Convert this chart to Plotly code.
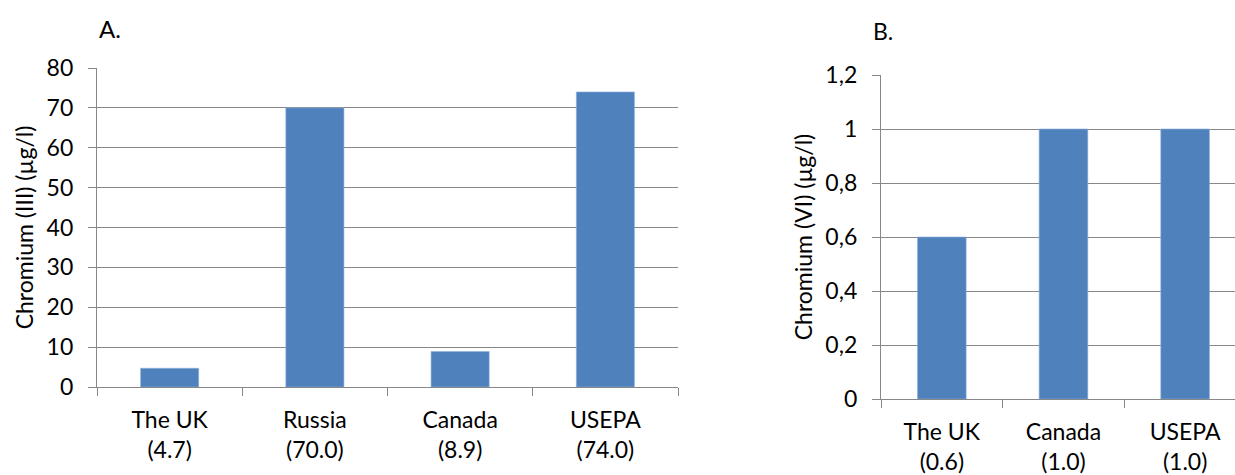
import plotly.graph_objects as go

# Panel A: Chromium (III) guideline values
cr3_names = ["The UK", "Russia", "Canada", "USEPA"]
cr3_values = [4.7, 70.0, 8.9, 74.0]

# Panel B: Chromium (VI) guideline values
cr6_names = ["The UK", "Canada", "USEPA"]
cr6_values = [0.6, 1.0, 1.0]

W, H = 1235, 475
BAR = "#4F81BD"
GRID = "#878787"
FONT = "Lato, 'Open Sans', sans-serif"


def labels(names, values):
    return [f"{n}<br>({v:.1f})" for n, v in zip(names, values)]


def px_x(a, b):
    return [a / W, b / W]


def px_y(top, bottom):
    return [1 - bottom / H, 1 - top / H]


fig = go.Figure()
fig.add_trace(go.Bar(
    x=labels(cr3_names, cr3_values), y=cr3_values,
    marker=dict(color=BAR, line=dict(color="#8EB0DA", width=0.6)),
    xaxis="x", yaxis="y", showlegend=False,
))
fig.add_trace(go.Bar(
    x=labels(cr6_names, cr6_values), y=cr6_values,
    marker=dict(color=BAR, line=dict(color="#8EB0DA", width=0.6)),
    xaxis="x2", yaxis="y2", showlegend=False,
))

axis_common = dict(
    automargin=False,
    showline=True, linecolor=GRID, linewidth=1.3,
    ticks="outside", tickcolor=GRID, ticklen=8, tickwidth=1.3,
    tickfont=dict(family=FONT, size=23, color="#000"),
)
x_common = dict(type="category", tickson="boundaries", showgrid=False,
                ticklabelstandoff=12, **axis_common)
y_common = dict(showgrid=True, gridcolor=GRID, gridwidth=1.3, zeroline=False,
                ticklabelstandoff=10, **axis_common)
title_font = dict(family=FONT, size=23, color="#000")

fig.update_layout(
    width=W, height=H,
    margin=dict(l=0, r=0, t=0, b=0),
    paper_bgcolor="white", plot_bgcolor="white",
    separators=",.",
    bargap=0.6,
    font=dict(family=FONT, color="#000"),
    xaxis=dict(domain=px_x(97, 678), anchor="y", range=[-0.5, 3.5],
               **x_common),
    yaxis=dict(domain=px_y(68, 387), anchor="x", range=[0, 80], dtick=10,
               title=dict(text="Chromium (III) (µg/l)", standoff=6,
                          font=title_font),
               **y_common),
    xaxis2=dict(domain=px_x(881, 1235), anchor="y2", range=[-0.5, 2.41],
                **x_common),
    yaxis2=dict(domain=px_y(75, 399), anchor="x2", range=[0, 1.2], dtick=0.2,
                title=dict(text="Chromium (VI) (µg/l)", standoff=6,
                           font=title_font),
                **y_common),
    annotations=[
        dict(text="A.", x=97 / W, y=1 - 29 / H, xref="paper", yref="paper",
             xanchor="left", yanchor="middle", showarrow=False,
             font=dict(family=FONT, size=24, color="#000")),
        dict(text="B.", x=871 / W, y=1 - 31 / H, xref="paper", yref="paper",
             xanchor="left", yanchor="middle", showarrow=False,
             font=dict(family=FONT, size=23, color="#000")),
    ],
)

fig.write_html("out.html")
